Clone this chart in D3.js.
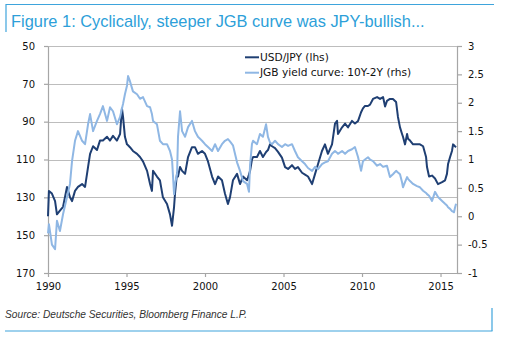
<!DOCTYPE html>
<html>
<head>
<meta charset="utf-8">
<script src="https://cdn.jsdelivr.net/npm/d3@7"></script>
<style>
  body { margin: 0; background: #fff; }
  svg { display: block; }
  .tick text { font-family: "DejaVu Sans", sans-serif; font-size: 10px; fill: #111; }
</style>
</head>
<body>
<div class="chart"></div>
<script>
// decimal years, USD/JPY (lhs, inverted) and JGB 10Y-2Y (rhs)
const years = [1990.00, 1990.06, 1990.25, 1990.45, 1990.57, 1990.76, 1990.96, 1991.21, 1991.40, 1991.53,
    1991.72, 1991.91, 1992.17, 1992.36, 1992.55, 1992.68, 1992.87, 1993.12, 1993.31, 1993.50,
    1993.76, 1993.95, 1994.14, 1994.39, 1994.59, 1994.71, 1994.78, 1994.90, 1995.03, 1995.10,
    1995.22, 1995.41, 1995.67, 1995.86, 1996.05, 1996.31, 1996.50, 1996.62, 1996.69, 1996.94,
    1997.13, 1997.32, 1997.58, 1997.77, 1997.90, 1998.03, 1998.09, 1998.22, 1998.28, 1998.41,
    1998.54, 1998.73, 1998.92, 1999.17, 1999.36, 1999.55, 1999.81, 2000.00, 2000.19, 2000.45,
    2000.64, 2000.83, 2001.08, 2001.27, 2001.46, 2001.59, 2001.78, 2002.04, 2002.23, 2002.42,
    2002.68, 2002.80, 2002.87, 2002.99, 2003.06, 2003.31, 2003.50, 2003.69, 2003.89, 2004.01,
    2004.14, 2004.27, 2004.46, 2004.65, 2004.90, 2005.10, 2005.29, 2005.54, 2005.73, 2005.92,
    2006.18, 2006.37, 2006.56, 2006.82, 2007.01, 2007.20, 2007.45, 2007.64, 2007.83, 2008.09,
    2008.28, 2008.41, 2008.47, 2008.73, 2008.92, 2009.11, 2009.36, 2009.55, 2009.75, 2009.94,
    2010.06, 2010.19, 2010.38, 2010.51, 2010.70, 2010.96, 2011.15, 2011.34, 2011.47, 2011.59,
    2011.78, 2011.97, 2012.17, 2012.29, 2012.42, 2012.55, 2012.61, 2012.74, 2012.87, 2012.93,
    2013.06, 2013.25, 2013.50, 2013.69, 2013.89, 2014.08, 2014.14, 2014.27, 2014.46, 2014.65,
    2014.84, 2015.10, 2015.29, 2015.41, 2015.48, 2015.61, 2015.73, 2015.80, 2015.86, 2015.92,
    2015.99];

const usdjpy = [140, 126.6, 128, 132, 139, 137, 135, 124.5, 130, 132,
    126.6, 124.5, 123, 124.5, 114, 107, 103, 105, 100, 100,
    98, 100, 97.5, 100, 96.5, 83, 87.5, 98, 102, 102.5,
    103.5, 105.5, 107, 108.7, 111, 116, 123, 126.6, 116, 119,
    121, 130, 133.5, 139, 145, 135, 128, 117, 119, 114,
    116, 117.6, 108.7, 103.5, 103.5, 107, 105.5, 107, 111, 119,
    123, 119, 121, 128, 133.5, 130, 121, 117.6, 123, 119,
    121, 118, 116, 110, 108.7, 108.7, 105.5, 108.7, 106, 105,
    102, 103, 104, 106, 109, 114, 115, 113, 115, 114,
    117, 118, 119, 123, 117.6, 112.4, 105.5, 102, 107, 102,
    91, 89.6, 96.5, 93, 91, 93, 89.6, 91, 89.6, 85,
    83, 81.7, 81.7, 81, 78, 77, 78, 77, 82, 79,
    78, 78, 79.6, 87.5, 93, 96.5, 98, 102, 96.5, 99,
    100, 102, 102, 102, 103, 108.7, 114, 119, 118.5, 120,
    123, 122, 121, 117.6, 112.4, 108.7, 105.5, 102, 102.5, 103,
    103.5];

const jgbCurve = [-0.3, -0.14, -0.5, -0.58, -0.08, -0.26, 0.04, 0.34, 0.57, 0.97,
    1.33, 1.5, 1.33, 1.27, 1.62, 1.8, 1.5, 1.68, 1.8, 1.94,
    1.68, 1.92, 1.85, 1.62, 1.75, 1.9, 1.98, 2.15, 2.3, 2.47,
    2.38, 2.2, 2.15, 2.07, 2.1, 1.94, 1.92, 1.8, 1.68, 1.62,
    1.33, 1.27, 1.27, 1.15, 1.0, 0.39, 0.57, 0.74, 1.4, 1.85,
    1.5, 1.4, 1.57, 1.68, 1.5, 1.4, 1.33, 1.27, 1.22, 1.15,
    1.27, 1.15, 1.27, 1.33, 1.36, 1.32, 1.25, 0.95, 0.8, 0.62,
    0.57, 0.43, 0.9, 1.27, 1.33, 1.27, 1.45, 1.4, 1.62, 1.4,
    1.3, 1.27, 1.33, 1.27, 1.22, 1.27, 1.24, 1.27, 1.15, 1.04,
    0.97, 0.92, 0.85, 0.8, 0.87, 0.83, 0.92, 0.95, 0.97, 1.1,
    1.15, 1.12, 1.1, 1.15, 1.1, 1.15, 1.18, 1.22, 1.04, 0.8,
    0.97, 1.0, 1.04, 1.0, 0.97, 0.89, 0.92, 0.87, 0.88, 0.89,
    0.69, 0.74, 0.8, 0.77, 0.74, 0.6, 0.51, 0.6, 0.69, 0.66,
    0.62, 0.57, 0.53, 0.51, 0.45, 0.41, 0.39, 0.36, 0.27, 0.43,
    0.34, 0.27, 0.22, 0.19, 0.16, 0.13, 0.09, 0.08, 0.07, 0.15,
    0.22];

const xTicks = [1990, 1995, 2000, 2005, 2010, 2015];
const leftTicks = [50, 70, 90, 110, 130, 150, 170];
const rightTicks = [3, 2.5, 2, 1.5, 1, 0.5, 0, -0.5, -1];
const seriesNames = ["USD/JPY (lhs)", "JGB yield curve: 10Y-2Y (rhs)"];

const width = 512;
const height = 343;
const darkBlue = "#1f3f73";
const lightBlue = "#8fb7e4";
const frameBlue = "#3ea4dc";

const svg = d3.select(".chart")
    .append("svg")
    .attr("width", width)
    .attr("height", height);

const plotLeft = 48, plotRight = 457, plotTop = 46, plotBottom = 273;

const x = d3.scaleLinear().domain([1990, 2016.05]).range([plotLeft, plotRight]);
const yL = d3.scaleLinear().domain([50, 170]).range([plotTop, plotBottom]);
const yR = d3.scaleLinear().domain([3, -1]).range([plotTop, plotBottom]);

// frame lines and title
svg.append("line").attr("x1", 6).attr("x2", 494).attr("y1", 4.5).attr("y2", 4.5)
    .attr("stroke", frameBlue).attr("stroke-width", 1.2);
svg.append("line").attr("x1", 6).attr("x2", 6).attr("y1", 4).attr("y2", 32)
    .attr("stroke", frameBlue).attr("stroke-width", 1.2);
svg.append("text")
    .attr("x", 11).attr("y", 26.5)
    .attr("font-family", "Liberation Sans, Arial, sans-serif")
    .attr("font-size", 16.4)
    .attr("fill", "#2d9fd9")
    .text("Figure 1: Cyclically, steeper JGB curve was JPY-bullish...");

// gridlines
svg.append("g")
    .selectAll("line")
    .data(leftTicks.slice(0, -1))
    .enter()
    .append("line")
    .attr("x1", plotLeft).attr("x2", plotRight)
    .attr("y1", d => Math.round(yL(d)) + 0.5)
    .attr("y2", d => Math.round(yL(d)) + 0.5)
    .attr("stroke", "#bdbdbd")
    .attr("stroke-width", 1.2);

function styleAxis(g) {
    g.select(".domain").attr("stroke", "#a6a6a6").attr("stroke-width", 1.2);
    g.selectAll(".tick line").attr("stroke", "#a6a6a6").attr("stroke-width", 1.2);
}

svg.append("g")
    .attr("transform", "translate(" + plotLeft + ",0)")
    .call(d3.axisLeft(yL).tickValues(leftTicks).tickSize(4).tickSizeOuter(0).tickPadding(9).tickFormat(d3.format("d")))
    .call(styleAxis);

svg.append("g")
    .attr("transform", "translate(" + plotRight + ",0)")
    .call(d3.axisRight(yR).tickValues(rightTicks).tickSize(5).tickSizeOuter(0).tickPadding(6).tickFormat(d => String(d)))
    .call(styleAxis);

svg.append("g")
    .attr("transform", "translate(0," + plotBottom + ")")
    .call(d3.axisBottom(x).tickValues(xTicks).tickSize(4).tickSizeOuter(0).tickPadding(6).tickFormat(d3.format("d")))
    .call(styleAxis);

// series
const usdLine = d3.line()
    .x((d, i) => x(years[i]))
    .y(d => yL(d));
const jgbLine = d3.line()
    .x((d, i) => x(years[i]))
    .y(d => yR(d));

svg.append("path")
    .datum(usdjpy)
    .attr("d", usdLine)
    .attr("fill", "none")
    .attr("stroke", darkBlue)
    .attr("stroke-width", 2)
    .attr("stroke-linejoin", "round");

svg.append("path")
    .datum(jgbCurve)
    .attr("d", jgbLine)
    .attr("fill", "none")
    .attr("stroke", lightBlue)
    .attr("stroke-width", 2)
    .attr("stroke-linejoin", "round");

// legend
const legend = svg.append("g").attr("transform", "translate(245,0)");
legend.selectAll("line")
    .data(seriesNames)
    .enter()
    .append("line")
    .attr("x1", 0).attr("x2", 14)
    .attr("y1", (d, i) => 57.3 + i * 15.4)
    .attr("y2", (d, i) => 57.3 + i * 15.4)
    .attr("stroke", (d, i) => i == 0 ? darkBlue : lightBlue)
    .attr("stroke-width", 2);
legend.selectAll("text")
    .data(seriesNames)
    .enter()
    .append("text")
    .attr("x", 15)
    .attr("y", (d, i) => 61 + i * 15.4)
    .attr("font-family", "DejaVu Sans, sans-serif")
    .attr("font-size", 10.6)
    .attr("fill", "#111")
    .text(d => d);

// source and bottom frame
svg.append("text")
    .attr("x", 5).attr("y", 318)
    .attr("font-family", "Liberation Sans, Arial, sans-serif")
    .attr("font-size", 10.2)
    .attr("font-style", "italic")
    .attr("fill", "#333")
    .text("Source: Deutsche Securities, Bloomberg Finance L.P.");
svg.append("line").attr("x1", 5).attr("x2", 492.5).attr("y1", 331).attr("y2", 331)
    .attr("stroke", frameBlue).attr("stroke-width", 1.2);
svg.append("line").attr("x1", 492).attr("x2", 492).attr("y1", 308).attr("y2", 331)
    .attr("stroke", frameBlue).attr("stroke-width", 1.2);
</script>
</body>
</html>
